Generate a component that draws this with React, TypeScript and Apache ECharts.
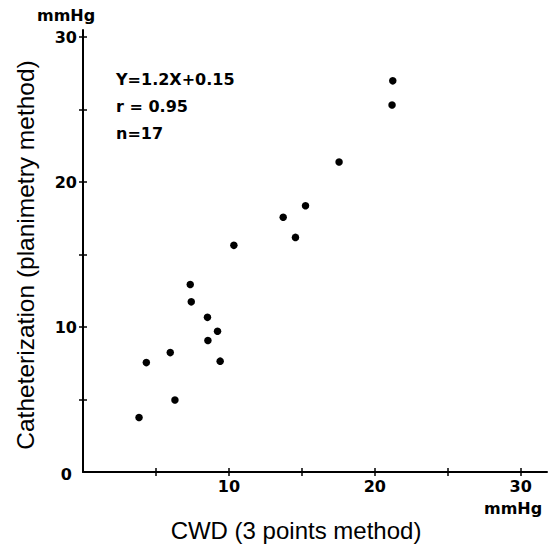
import React, { useEffect, useRef } from "react";
import * as echarts from "echarts";

const cwdValues = [10.34, 7.35, 7.42, 8.53, 9.22, 8.56, 5.98, 4.34, 9.4, 6.3, 3.84, 21.23, 21.18, 17.55, 15.25, 13.72, 14.56];
const cathValues = [15.64, 12.94, 11.74, 10.67, 9.71, 9.07, 8.24, 7.55, 7.65, 4.97, 3.76, 26.99, 25.32, 21.39, 18.37, 17.58, 16.19];
const tickValues = [5, 10, 15, 20, 25, 30];
const xLabelValues = [10, 20, 30];
const yLabelValues = [0, 10, 20, 30];
const statLines = ["Y=1.2X+0.15", "r = 0.95", "n=17"];
const xName = "CWD (3 points method)";
const yName = "Catheterization (planimetry method)";
const unit = "mmHg";

export default function App() {
  const ref = useRef<HTMLDivElement>(null);
  useEffect(() => {
    document.body.style.margin = "0";
    if (!ref.current) return;
    const chart = echarts.init(ref.current, null, { renderer: "svg" });
    const data = cwdValues.map((x, i) => [x, cathValues[i]]);
    const tickFont = { fontFamily: "DejaVu Sans", fontWeight: "bold" as const, fontSize: 16, color: "#000" };
    const nameFont = { fontFamily: "Liberation Sans", fontSize: 24, color: "#000" };
    const line = { lineStyle: { color: "#000", width: 2 } };
    chart.setOption({
      animation: false,
      backgroundColor: "#fff",
      grid: { left: 83, right: 9, top: 30, bottom: 72 },
      xAxis: [
        {
          type: "value", min: 0, max: 31.8,
          axisLine: { show: true, ...line },
          axisTick: { show: true, length: 4, customValues: tickValues, lineStyle: { color: "#000", width: 1.5 } },
          axisLabel: { show: true, customValues: xLabelValues, margin: 6, ...tickFont },
          splitLine: { show: false },
          name: xName, nameLocation: "middle", nameGap: 46,
          nameTextStyle: { ...nameFont, padding: [0, 38, 0, 0] },
        },
        {
          type: "value", min: 0, max: 31.8, position: "bottom",
          axisLine: { show: false },
          axisTick: { show: true, inside: true, length: 4, customValues: tickValues, lineStyle: { color: "#000", width: 1.5 } },
          axisLabel: { show: false },
          splitLine: { show: false },
        },
      ],
      yAxis: [
        {
          type: "value", min: 0, max: 30.5,
          axisLine: { show: true, ...line },
          axisTick: { show: true, length: 4, customValues: tickValues, lineStyle: { color: "#000", width: 1.5 } },
          axisLabel: {
            show: true, customValues: yLabelValues, margin: 6, ...tickFont,
            formatter: (v: number) => (v === 0 ? "{z|0}" : String(v)),
            rich: { z: { ...tickFont, padding: [4, 5, 0, 0] } },
          },
          splitLine: { show: false },
          name: yName, nameLocation: "middle", nameGap: 45,
          nameTextStyle: { ...nameFont, fontSize: 24.5, padding: [0, 8, 0, 0] },
        },
        {
          type: "value", min: 0, max: 30.5, position: "left",
          axisLine: { show: false },
          axisTick: { show: true, inside: true, length: 4, customValues: tickValues, lineStyle: { color: "#000", width: 1.5 } },
          axisLabel: { show: false },
          splitLine: { show: false },
        },
      ],
      graphic: [
        { type: "text", left: 37, top: 7, style: { text: unit, font: "bold 16px 'DejaVu Sans'", fill: "#000" } },
        { type: "text", left: 484, top: 500, style: { text: unit, font: "bold 16px 'DejaVu Sans'", fill: "#000" } },
        ...statLines.map((t, i) => ({
          type: "text", left: 116, top: 71 + i * 27,
          style: { text: t, font: "bold 16px 'DejaVu Sans'", fill: "#000" },
        })),
      ],
      series: [
        {
          type: "scatter", xAxisIndex: 0, yAxisIndex: 0, data,
          symbol: "circle", symbolSize: 7.5,
          itemStyle: { color: "#000", opacity: 1 },
        },
      ],
    });
    return () => chart.dispose();
  }, []);
  return <div ref={ref} style={{ width: 556, height: 547 }} />;
}
